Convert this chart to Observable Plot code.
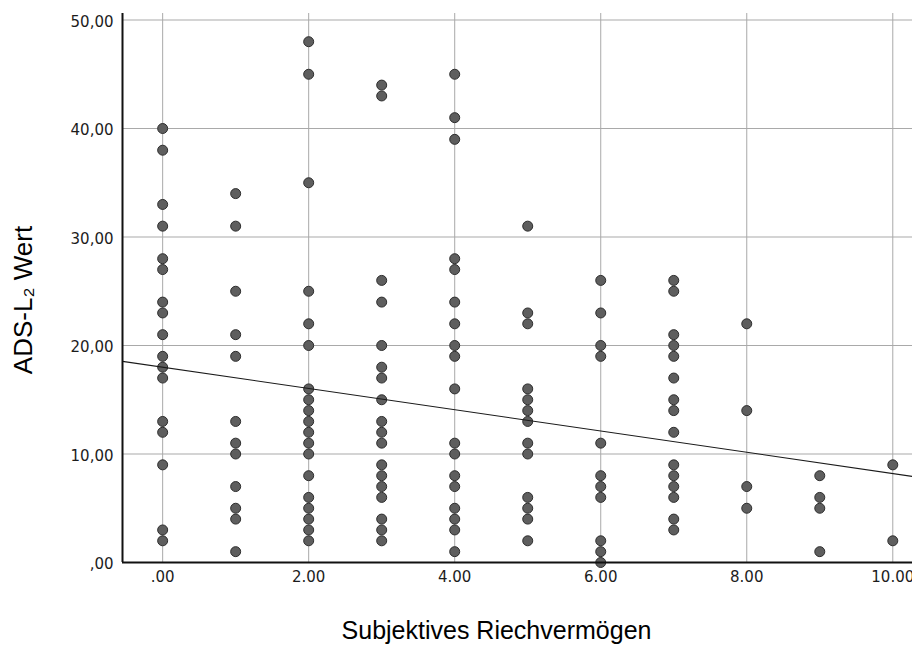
<!DOCTYPE html>
<html>
<head>
<meta charset="utf-8">
<script src="https://cdn.jsdelivr.net/npm/d3@7"></script>
<script src="https://cdn.jsdelivr.net/npm/@observablehq/plot@0.6"></script>
<style>
  html, body { margin: 0; padding: 0; background: #fff; overflow: hidden; }
  #chart svg { display: block; }
</style>
</head>
<body>
<div id="chart"></div>
<script>
// Subjective olfactory ability levels (x) and observed ADS-L2 scores at each level
const riechLevels = [0, 1, 2, 3, 4, 5, 6, 7, 8, 9, 10];
const ads0 = [40, 38, 33, 31, 28, 27, 24, 23, 21, 19, 18, 17, 13, 12, 9, 3, 2];
const ads1 = [34, 31, 25, 21, 19, 13, 11, 10, 7, 5, 4, 1];
const ads2 = [48, 45, 35, 25, 22, 20, 16, 15, 14, 13, 12, 11, 10, 8, 6, 5, 4, 3, 2];
const ads3 = [44, 43, 26, 24, 20, 18, 17, 15, 13, 12, 11, 9, 8, 7, 6, 4, 3, 2];
const ads4 = [45, 41, 39, 28, 27, 24, 22, 20, 19, 16, 11, 10, 8, 7, 5, 4, 3, 1];
const ads5 = [31, 23, 22, 16, 15, 14, 13, 11, 10, 6, 5, 4, 2];
const ads6 = [26, 23, 20, 19, 11, 8, 7, 6, 2, 1, 0];
const ads7 = [26, 25, 21, 20, 19, 17, 15, 14, 12, 9, 8, 7, 6, 4, 3];
const ads8 = [22, 14, 7, 5];
const ads9 = [8, 6, 5, 1];
const ads10 = [9, 2];
const adsByLevel = [ads0, ads1, ads2, ads3, ads4, ads5, ads6, ads7, ads8, ads9, ads10];

// Fit line as shown in the chart
const fitIntercept = 18.0;
const fitSlope = -0.98;

// Axis extents and ticks
const xDomain = [-0.55, 10.27];
const yDomain = [0, 50.6];
const xTicks = [0, 2, 4, 6, 8, 10];
const yTicks = [0, 10, 20, 30, 40, 50];

const xTitle = "Subjektives Riechvermögen";
const yTitle = "ADS-L\u2082 Wert";

const points = riechLevels.flatMap((x, i) => adsByLevel[i].map(y => ({x, y})));
const fitLine = xDomain.map(x => ({x, y: fitIntercept + fitSlope * x}));

const fmtY = d => d === 0 ? ",00" : d.toFixed(2).replace(".", ",");
const fmtX = d => d === 0 ? ".00" : d.toFixed(2);

const tickFont = "DejaVu Sans, sans-serif";
const titleFont = "Liberation Sans, Arial, sans-serif";

const chart = Plot.plot({
  width: 912,
  height: 646,
  marginLeft: 122,
  marginRight: 0,
  marginTop: 13,
  marginBottom: 84,
  style: {background: "#fff", overflow: "hidden"},
  x: {domain: xDomain, ticks: xTicks},
  y: {domain: yDomain, ticks: yTicks},
  marks: [
    Plot.gridX(xTicks, {stroke: "#a9a9a9", strokeOpacity: 1, strokeWidth: 1}),
    Plot.gridY(yTicks.filter(d => d > 0), {stroke: "#a9a9a9", strokeOpacity: 1, strokeWidth: 1}),
    Plot.dot(points, {x: "x", y: "y", r: 5, fill: "#5e5e5e", stroke: "#2e2e2e", strokeWidth: 1}),
    Plot.line(fitLine, {x: "x", y: "y", stroke: "#1a1a1a", strokeWidth: 1.1}),
    Plot.ruleX([xDomain[0]], {stroke: "#111", strokeWidth: 2}),
    Plot.ruleY([0], {stroke: "#111", strokeWidth: 2}),
    Plot.axisY(yTicks, {tickSize: 0, tickPadding: 9, tickFormat: fmtY, label: null,
      fontSize: 15, fontFamily: tickFont, fill: "#1c1c1c", dy: 2}),
    Plot.axisX(xTicks, {tickSize: 0, tickPadding: 9, tickFormat: fmtX, label: null,
      fontSize: 15, fontFamily: tickFont, fill: "#1c1c1c"}),
    Plot.text([xTitle], {frameAnchor: "bottom", text: d => d, dx: -21, dy: 68,
      fontSize: 25, fontFamily: titleFont, fill: "#000", textAnchor: "middle", lineAnchor: "middle"}),
    Plot.text([yTitle], {frameAnchor: "left", text: d => d, dx: -99, dy: 12, rotate: -90,
      fontSize: 26, fontFamily: titleFont, fill: "#000", textAnchor: "middle", lineAnchor: "middle"})
  ]
});
document.getElementById("chart").appendChild(chart);
</script>
</body>
</html>
